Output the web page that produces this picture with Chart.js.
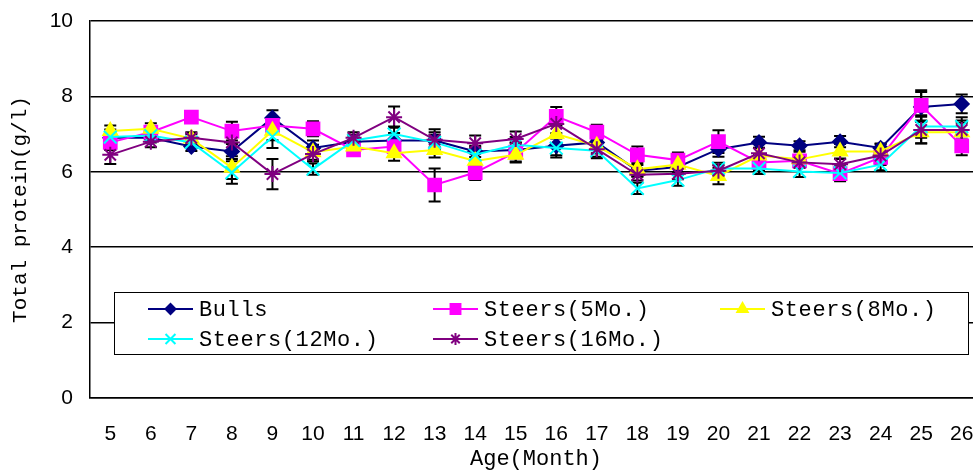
<!DOCTYPE html>
<html>
<head>
<meta charset="utf-8">
<script src="https://cdn.jsdelivr.net/npm/chart.js@4"></script>
<style>
  html, body { margin: 0; padding: 0; background: #fff; overflow: hidden; }
  #wrap { width: 993px; height: 470px; }
</style>
</head>
<body>
<div id="wrap"><canvas id="proteinChart" width="993" height="470"></canvas></div>
<script>
// age in months
const ages = ["5","6","7","8","9","10","11","12","13","14","15","16","17","18","19","20","21","22","23","24","25","26"];

// mean total protein (g/l) per group
const bulls    = [6.90,6.90,6.67,6.54,7.43,6.63,6.80,6.83,6.83,6.54,6.58,6.69,6.78,6.03,6.13,6.60,6.78,6.69,6.80,6.63,7.72,7.80];
const steers5  = [6.78,7.05,7.45,7.08,7.23,7.14,6.58,6.67,5.65,5.98,6.52,7.47,7.05,6.45,6.31,6.80,6.25,6.29,5.95,6.38,7.76,6.69];
const steers8  = [7.08,7.14,6.88,6.11,7.09,6.52,6.67,6.49,6.58,6.29,6.45,7.00,6.69,6.07,6.19,5.89,6.43,6.33,6.54,6.54,7.05,7.05];
const steers12 = [6.92,6.96,6.78,5.98,6.93,6.07,6.83,7.00,6.78,6.45,6.72,6.63,6.56,5.56,5.78,6.09,6.09,6.01,5.97,6.19,7.20,7.20];
const steers16 = [6.45,6.80,6.90,6.78,5.94,6.47,6.90,7.45,6.85,6.76,6.87,7.27,6.60,5.92,5.95,6.03,6.49,6.25,6.20,6.43,7.11,7.11];

// standard errors
const bullsErr    = [0.15,0.12,0.12,0.20,0.20,0.20,0.15,0.20,0.30,0.15,0.20,0.25,0.15,0.15,0.20,0.20,0.15,0.12,0.15,0.12,0.40,0.25];
const steers5Err  = [0.20,0.12,0.12,0.25,0.20,0.20,0.15,0.20,0.44,0.20,0.25,0.25,0.20,0.22,0.20,0.30,0.20,0.15,0.20,0.20,0.40,0.25];
const steers8Err  = [0.15,0.15,0.12,0.30,0.25,0.20,0.15,0.20,0.20,0.20,0.20,0.25,0.20,0.20,0.20,0.22,0.20,0.20,0.20,0.20,0.30,0.25];
const steers12Err = [0.20,0.15,0.15,0.30,0.30,0.15,0.15,0.20,0.20,0.20,0.20,0.25,0.20,0.15,0.15,0.15,0.15,0.15,0.15,0.15,0.30,0.25];
const steers16Err = [0.24,0.15,0.15,0.20,0.40,0.20,0.15,0.28,0.20,0.20,0.20,0.25,0.20,0.15,0.15,0.15,0.15,0.15,0.15,0.15,0.35,0.25];

const monoFont = "'Liberation Mono', 'DejaVu Sans Mono', monospace";
const sansFont = "'Liberation Sans', Arial, sans-serif";

function series(label, data, errors, color, pointStyle, radius, order) {
  return {
    label, data, errors, order, pointStyle,
    borderColor: color,
    backgroundColor: color,
    pointBackgroundColor: color,
    pointBorderColor: color,
    borderWidth: 2,
    pointBorderWidth: 2,
    pointRadius: radius,
    tension: 0,
    legendRadius: Math.max(4, radius - 2)
  };
}

// vertical whiskers with caps, drawn under the markers
const errorBars = {
  id: "errorBars",
  beforeDatasetsDraw(chart) {
    const { ctx, scales: { y } } = chart;
    ctx.save();
    ctx.strokeStyle = "#000";
    ctx.lineWidth = 2;
    chart.data.datasets.forEach((ds, i) => {
      const meta = chart.getDatasetMeta(i);
      meta.data.forEach((pt, j) => {
        const v = ds.data[j], e = ds.errors[j];
        const top = y.getPixelForValue(v + e);
        const bot = y.getPixelForValue(v - e);
        ctx.beginPath();
        ctx.moveTo(pt.x, top); ctx.lineTo(pt.x, bot);
        ctx.moveTo(pt.x - 6, top); ctx.lineTo(pt.x + 6, top);
        ctx.moveTo(pt.x - 6, bot); ctx.lineTo(pt.x + 6, bot);
        ctx.stroke();
      });
    });
    ctx.restore();
  }
};

// framed legend sitting inside the plot
const boxLegend = {
  id: "boxLegend",
  afterDatasetsDraw(chart, args, opts) {
    const ctx = chart.ctx;
    const b = opts.box;
    ctx.save();
    ctx.fillStyle = "#fff";
    ctx.fillRect(b.left, b.top, b.right - b.left, b.bottom - b.top);
    ctx.strokeStyle = "#000";
    ctx.lineWidth = 1;
    ctx.strokeRect(b.left + 0.5, b.top + 0.5, b.right - b.left, b.bottom - b.top);

    chart.data.datasets.forEach((ds, i) => {
      const x = opts.cols[i % 3];
      const y = opts.rows[Math.floor(i / 3)];
      ctx.strokeStyle = ds.borderColor;
      ctx.fillStyle = ds.pointBackgroundColor;
      ctx.lineWidth = 2;
      ctx.beginPath();
      ctx.moveTo(x, y);
      ctx.lineTo(x + opts.lineLen, y);
      ctx.stroke();
      Chart.helpers.drawPoint(ctx, {
        pointStyle: ds.pointStyle, radius: ds.legendRadius, borderWidth: 2, rotation: 0
      }, x + opts.lineLen / 2, y);

      ctx.fillStyle = "#000";
      ctx.font = "22px " + monoFont;
      ctx.letterSpacing = "0.6px";
      ctx.textBaseline = "middle";
      ctx.textAlign = "left";
      ctx.fillText(ds.label, x + opts.lineLen + 6, y + 1);
    });
    ctx.restore();
  }
};

new Chart(document.getElementById("proteinChart"), {
  type: "line",
  data: {
    labels: ages,
    datasets: [
      series("Bulls", bulls, bullsErr, "#000080", "rectRot", 7, 5),
      series("Steers(5Mo.)", steers5, steers5Err, "#FF00FF", "rect", 9, 4),
      series("Steers(8Mo.)", steers8, steers8Err, "#FFFF00", "triangle", 8, 3),
      series("Steers(12Mo.)", steers12, steers12Err, "#00FFFF", "crossRot", 9, 2),
      series("Steers(16Mo.)", steers16, steers16Err, "#800080", "star", 8, 1)
    ]
  },
  options: {
    responsive: false,
    devicePixelRatio: 1,
    animation: false,
    layout: { padding: { top: 21, right: 0, left: 0, bottom: 0 } },
    plugins: {
      legend: { display: false },
      tooltip: { enabled: false },
      boxLegend: {
        box: { left: 114, top: 292, right: 968, bottom: 354 },
        cols: [148, 433, 720],
        rows: [309, 339],
        lineLen: 45
      }
    },
    scales: {
      x: {
        offset: true,
        grid: { display: false, drawTicks: false },
        border: { color: "#000", width: 1.5 },
        ticks: { color: "#000", font: { family: sansFont, size: 21 }, padding: 24, maxRotation: 0, autoSkip: false },
        title: {
          display: true, text: "Age(Month)", color: "#000",
          font: { family: monoFont, size: 22, lineHeight: 1 }, padding: 0
        },
        afterFit(scale) { scale.height = 72; scale.paddingLeft = 0; scale.paddingRight = 0; }
      },
      y: {
        min: 0, max: 10,
        grid: { color: "#000", lineWidth: 1.5, drawTicks: false },
        border: { color: "#000", width: 1.5 },
        ticks: { stepSize: 2, color: "#000", font: { family: sansFont, size: 21 }, padding: 17 },
        title: {
          display: true, text: "Total protein(g/l)", color: "#000",
          font: { family: monoFont, size: 21, lineHeight: 1.2 }, padding: 8
        },
        afterFit(scale) { scale.width = 90; scale.paddingTop = 0; scale.paddingBottom = 0; }
      }
    }
  },
  plugins: [errorBars, boxLegend]
});
</script>
</body>
</html>
